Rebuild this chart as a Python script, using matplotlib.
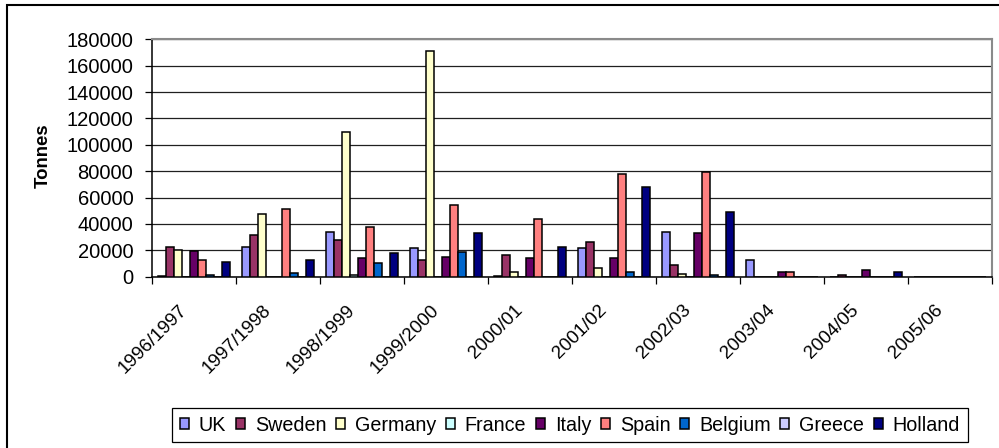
import matplotlib
matplotlib.use("Agg")
import matplotlib.pyplot as plt
import matplotlib.transforms as mtransforms
from matplotlib.patches import Rectangle
import numpy as np

plt.rcParams["font.family"] = ["Liberation Sans", "DejaVu Sans"]

seasons = ["1996/1997", "1997/1998", "1998/1999", "1999/2000", "2000/01",
           "2001/02", "2002/03", "2003/04", "2004/05", "2005/06"]
countries = ["UK", "Sweden", "Germany", "France", "Italy", "Spain",
             "Belgium", "Greece", "Holland"]
colors = ["#9999FF", "#993366", "#FFFFCC", "#CCFFFF", "#660066", "#FF8080",
          "#0066CC", "#CCCCFF", "#000080"]

uk = [800, 22400, 33900, 21500, 800, 21500, 34100, 12600, 0, 0]
sweden = [22400, 31400, 27600, 12600, 16400, 26500, 8600, 0, 1500, 0]
germany = [20100, 47700, 110000, 171300, 3800, 6300, 2300, 0, 0, 0]
france = [0, 0, 1000, 0, 0, 0, 0, 0, 0, 0]
italy = [19800, 0, 14000, 15200, 13900, 13900, 32900, 3800, 5300, 0]
spain = [12600, 51200, 37700, 54300, 44000, 77800, 79100, 3800, 0, 0]
belgium = [1000, 2500, 10300, 19000, 0, 3800, 1300, 0, 0, 0]
greece = [0, 0, 0, 0, 0, 0, 0, 0, 0, 0]
holland = [11500, 12600, 17700, 32900, 22700, 67700, 49300, 0, 3800, 0]

series = [uk, sweden, germany, france, italy, spain, belgium, greece, holland]
yticks = list(range(0, 180001, 20000))

fig = plt.figure(figsize=(9.99, 4.48), dpi=100)
W, H = 999, 448
ax = fig.add_axes([151.7 / W, 1 - 276.7 / H, 840 / W, 237.4 / H])

# Excel-style clustered bars: gap width 150%
bw = 1 / 10.5
cats = np.arange(len(seasons))
for i, (name, vals, col) in enumerate(zip(countries, series, colors)):
    x = cats + (0.75 + i + 0.5) * bw
    ax.bar(x, vals, width=bw, color=col, edgecolor="black", lw=1.1,
           label=name, zorder=3)

ax.set_xlim(0, len(seasons))
ax.set_ylim(0, 180000)
ax.set_yticks(yticks)
ax.set_yticklabels([str(v) for v in yticks], fontsize=14.5)
ax.set_xticks(np.arange(len(seasons) + 1))
ax.set_xticklabels([])
ax.tick_params(axis="both", direction="out", length=5, width=0.9,
               color="black")
ax.tick_params(axis="y", pad=8.2)
ax.set_axisbelow(True)
ax.yaxis.grid(True, color="#202020", lw=0.9)

for s in ("left", "bottom"):
    ax.spines[s].set_color("black")
    ax.spines[s].set_linewidth(1.1)
for s in ("top", "right"):
    ax.spines[s].set_color("#8a8a8a")
    ax.spines[s].set_linewidth(1.5)

# rotated category labels centred under each cluster
off = mtransforms.ScaledTranslation(-15.5 / 100, -25 / 100, fig.dpi_scale_trans)
trans = ax.get_xaxis_transform() + off
for c, lab in zip(cats, seasons):
    ax.text(c + 0.5, 0, lab, transform=trans, rotation=45,
            rotation_mode="anchor", ha="right", va="top", fontsize=13.6)

ax.set_ylabel("Tonnes", fontsize=13.4, fontweight="bold")
ax.yaxis.set_label_coords(-0.1187, 0.5105)

leg = fig.legend(loc="center", bbox_to_anchor=(570 / W, 1 - 425 / H),
                 ncol=9, fontsize=14.2, frameon=True, fancybox=False,
                 edgecolor="black", framealpha=1, handlelength=0.45,
                 handleheight=0.45, handletextpad=0.5, columnspacing=0.5,
                 borderpad=0.4)
leg.get_frame().set_linewidth(0.9)

# chart-area border
fig.patches.append(Rectangle((7 / W, -0.05), 1.2, 1 - 5 / H + 0.05,
                             transform=fig.transFigure, fill=False,
                             edgecolor="black", lw=1.5))

fig.savefig("out.png", dpi=100)
